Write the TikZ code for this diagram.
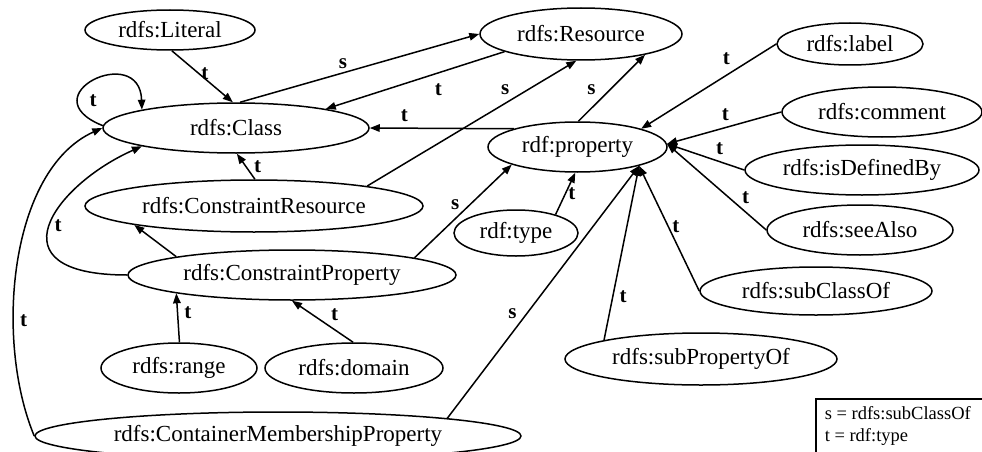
\documentclass[tikz,border=0pt]{standalone}
\usepackage{fontspec}
\setmainfont{Liberation Serif}
\usetikzlibrary{arrows.meta, shapes.geometric}
\tikzset{
  res/.style={ellipse, draw=black, line width=1.5pt, inner sep=0pt,
              font=\fontsize{23}{26}\selectfont},
  lab/.style={font=\fontsize{21}{24}\selectfont\bfseries, inner sep=2pt},
  arr/.style={-{Triangle[length=10pt, width=7.5pt]}, draw=black, line width=1.5pt},
  keybox/.style={draw=black, line width=1.5pt, anchor=north west, inner xsep=9pt,
                 inner ysep=8pt, font=\fontsize{18.5}{22}\selectfont},
}

\begin{document}
\begin{tikzpicture}[x=1pt, y=-1pt]
  \useasboundingbox (0,0) rectangle (982,452);
  \node[res, minimum width=170pt, minimum height=40pt] (lit) at (170,30) {rdfs:Literal};
  \node[res, minimum width=266pt, minimum height=50pt] (cls) at (236,128) {rdfs:Class};
  \node[res, minimum width=202pt, minimum height=52pt] (rsc) at (581,34) {rdfs:Resource};
  \node[res, minimum width=179pt, minimum height=50pt] (prop) at (577.5,147) {rdf:property};
  \node[res, minimum width=146pt, minimum height=42pt] (lbl) at (850,44) {rdfs:label};
  \node[res, minimum width=200pt, minimum height=50pt] (cmt) at (882,112) {rdfs:comment};
  \node[res, minimum width=234pt, minimum height=50pt] (idb) at (862,170) {rdfs:isDefinedBy};
  \node[res, minimum width=186pt, minimum height=50pt] (see) at (860,230) {rdfs:seeAlso};
  \node[res, minimum width=232pt, minimum height=48pt] (sco) at (816,291) {rdfs:subClassOf};
  \node[res, minimum width=272pt, minimum height=52pt] (spo) at (701,359) {rdfs:subPropertyOf};
  \node[res, minimum width=124pt, minimum height=46pt] (typ) at (516,233) {rdf:type};
  \node[res, minimum width=338pt, minimum height=52pt] (cres) at (254,206) {rdfs:ConstraintResource};
  \node[res, minimum width=328pt, minimum height=50pt] (cprop) at (292,275) {rdfs:ConstraintProperty};
  \node[res, minimum width=156pt, minimum height=50pt] (rng) at (179,368) {rdfs:range};
  \node[res, minimum width=178pt, minimum height=50pt] (dom) at (354,368) {rdfs:domain};
  \node[res, minimum width=486pt, minimum height=48pt] (cmp) at (278,436) {rdfs:ContainerMembershipProperty};
  \node[keybox] (key) at (815,398) {\parbox[t][110pt][t]{220pt}{s = rdfs:subClassOf\\t = rdf:type}};

  \draw[arr] (lit.275) -- node[lab, pos=.44, right] {t} (cls.97);
  \draw[arr] (cls.81) -- node[lab, pos=.43, above=1pt] {s} (rsc.180);
  \draw[arr] (rsc.193) -- node[lab, pos=.37, below=8pt] {t} (cls.12);
  \draw[arr] (cres.10) -- node[lab, pos=.66, above=6pt] {s} (rsc.260);
  \draw[arr] (prop.88) -- node[lab, pos=.48, left=12pt] {s} (rsc.342);
  \draw[arr] (prop.164) -- node[lab, pos=.76, above=4pt] {t} (cls.0);
  \draw[arr] (cls.179) .. controls +(-75,-30) and +(-2,-68) .. (cls.169)
    node[lab, pos=.25, right=10pt] {t};
  \draw[arr] (cres.88) -- node[lab, pos=.48, right=5pt] {t} (cls.272);
  \draw[arr] (cprop.171) -- (cres.189);
  \draw[arr] (cprop.180) .. controls +(-138,0) and +(-88,39) .. (cls.191)
    node[lab, pos=.5, right=2pt] {t};
  \draw[arr] (cprop.8) -- node[lab, pos=.42, above=6pt] {s} (prop.195);
  \draw[arr] (rng.89) -- node[lab, pos=.6, right=4pt] {t} (cprop.189);
  \draw[arr] (dom.92) -- node[lab, pos=.42, above right=1pt] {t} (cprop.270);
  \draw[arr] (cmp.180) .. controls +(-40,-96) and +(-93,42) .. (cls.180)
    node[lab, pos=.34, right=4pt] {t};
  \draw[arr] (cmp.6) -- node[lab, pos=.38, above left=1pt] {s} (prop.343);
  \draw[arr] (typ.25) -- node[lab, pos=.51, right=0pt] {t} (prop.265);
  \draw[arr] (lbl.180) -- node[lab, pos=.37, above=8pt] {t} (prop.16);
  \draw[arr] (cmt.180) -- node[lab, pos=.49, above=4pt] {t} (prop.2);
  \draw[arr] (idb.180) -- node[lab, pos=.32, above=4pt] {t} (prop.2);
  \draw[arr] (see.180) -- node[lab, pos=.27, above right=0pt] {t} (prop.2);
  \draw[arr] (sco.180) -- node[lab, pos=.51, right=1pt] {t} (prop.343);
  \draw[arr] (spo.169) -- node[lab, pos=.25, right=4pt] {t} (prop.343);
\end{tikzpicture}
\end{document}
